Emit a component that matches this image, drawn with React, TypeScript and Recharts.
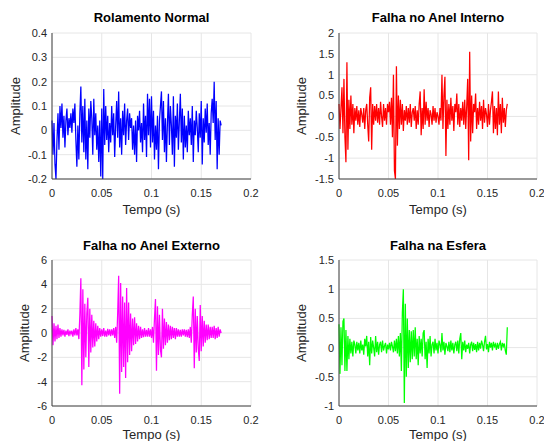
import { LineChart, Line, XAxis, YAxis, CartesianGrid } from 'recharts';

// sample period of the recorded signals (s)
const dt = 0.001;

const xTicks = [0, 0.05, 0.1, 0.15, 0.2];

const normal = [
  0.04, -0.1, 0.03, -0.14, -0.2, -0.04, 0.07, -0.08, 0.1, 0.01,
  0.11, -0.03, 0.06, -0.07, 0.04, 0.09, -0.02, 0.05, 0.01, 0.07,
  -0.01, 0.09, 0.03, 0.11, -0.04, -0.15, 0.02, -0.12, 0.07, 0.18,
  -0.05, 0.1, -0.09, 0.13, -0.12, 0.04, -0.16, 0.09, -0.03, 0.12,
  0.05, -0.1, 0.13, -0.02, 0.07, -0.08, 0.02, -0.13, 0.04, -0.19,
  0.09, -0.2, 0.17, -0.06, 0.1, -0.04, 0.06, -0.09, 0.03, -0.05,
  0.1, -0.02, 0.07, -0.11, 0.02, 0.12, -0.03, 0.16, -0.07, 0.05,
  -0.1, 0.08, -0.02, 0.11, -0.06, 0.04, 0.09, -0.04, 0.07, 0.01,
  0.05, -0.08, 0.02, -0.1, 0.04, -0.13, 0.06, 0.0, 0.08, -0.05,
  0.03, -0.09, 0.11, -0.04, 0.06, -0.11, 0.15, -0.02, 0.13, -0.07,
  0.14, -0.05, 0.08, -0.12, 0.02, -0.08, 0.06, -0.16, 0.04, 0.1,
  0.16, -0.04, 0.12, -0.09, 0.05, -0.13, 0.03, 0.15, -0.06, 0.1,
  0.02, -0.1, 0.14, -0.15, 0.06, -0.03, 0.11, -0.08, 0.04, 0.15,
  -0.05, 0.09, -0.12, 0.06, -0.07, 0.02, -0.09, 0.08, -0.02, 0.05,
  -0.06, 0.1, -0.13, 0.04, -0.02, 0.08, 0.01, -0.09, 0.07, -0.03,
  0.12, -0.14, 0.05, -0.05, 0.09, -0.01, 0.11, -0.06, 0.03, -0.1,
  0.07, 0.13, 0.03, 0.2, -0.04, 0.12, -0.16, 0.05, -0.1, 0.04,
  0.02,
];

const innerRace = [
  0.3, -0.3, 0.2, 0.7, -0.4, 0.9, -0.5, -1.1, 1.3, -0.8,
  0.4, -0.3, 0.5, -0.2, 0.3, -0.4, 0.2, -0.1, 0.25, -0.2,
  0.15, -0.25, 0.2, 0.05, -0.15, 0.2, -0.3, 0.15, 0.3, -0.2,
  -0.6, 0.45, 0.7, -0.8, 0.3, -0.2, 0.25, -0.1, 0.3, -0.15,
  0.2, -0.2, 0.35, 0.0, -0.25, 0.3, -0.1, 0.2, -0.2, 0.3,
  0.1, 0.35, -0.2, 0.45, -0.5, 1.0, -1.3, -1.5, 1.2, -0.7,
  0.5, -0.3, 0.4, -0.2, 0.3, -0.35, 0.15, -0.1, 0.25, -0.2,
  0.2, -0.15, 0.3, -0.25, 0.1, 0.2, -0.1, 0.25, -0.3, 0.15,
  -0.2, 0.3, 0.6, -0.45, 0.2, -0.3, 0.65, -0.2, 0.35, -0.1,
  0.2, -0.25, 0.15, 0.05, -0.2, 0.25, -0.1, 0.2, -0.15, 0.1,
  0.0, -0.2, 0.2, -0.1, 1.0, -0.3, 0.5, 0.95, -0.95, 0.4,
  -0.3, 0.3, -0.2, 0.45, -0.1, 0.25, -0.35, 0.3, 0.1, 0.55,
  -0.2, 0.3, -0.25, 0.2, -0.1, 0.35, -0.2, 0.4, -0.3, 0.25,
  0.9, -1.05, 1.55, -0.6, 0.5, -0.4, 0.3, 0.1, 0.55, -0.3,
  0.2, -0.2, 0.35, -0.1, 0.25, -0.3, 0.4, -0.15, 0.2, 0.05,
  -0.25, 0.3, -0.2, 0.15, 0.35, 0.6, -0.4, 0.25, -0.3, 0.2,
  -0.45, 0.6, -0.2, 0.3, -0.4, 0.45, -0.15, 0.2, -0.25, 0.15,
  0.3,
];

const outerRace = [
  1.4, -1.0, 0.8, -0.7, 0.6, -0.5, 0.7, -0.4, 0.4, -0.3,
  0.3, -0.2, 0.25, -0.3, 0.2, -0.15, 0.3, -0.25, 0.2, -0.1,
  0.2, -0.3, 0.3, -0.2, 0.4, -0.2, 0.3, -0.5, 1.5, 4.5,
  -4.3, 3.6, -3.0, 2.4, -2.0, 1.6, 2.9, -2.8, 2.0, -1.6,
  1.5, -1.2, 1.0, -1.1, 0.8, -0.7, 0.6, -0.5, 0.4, -0.3,
  0.3, -0.25, 0.4, -0.3, 0.2, -0.3, 0.35, -0.2, 0.3, -0.25,
  0.3, -0.2, 0.4, -0.4, 0.5, -0.8, 1.6, 4.7, -5.0, 4.1,
  -3.2, 3.0, -2.8, 2.5, -3.7, 3.7, -2.4, 2.5, -1.8, 1.6,
  -1.5, 1.2, -1.0, 1.3, -0.9, 0.8, -0.7, 0.6, -0.5, 0.5,
  -0.4, 0.3, -0.35, 0.4, -0.3, 0.25, -0.3, 0.4, -0.3, 0.3,
  -0.4, 0.5, -0.8, 1.2, 2.8, -3.1, 2.2, -1.8, 1.5, -1.4,
  -2.0, 2.0, -1.3, 1.2, -1.0, 0.9, -0.8, 0.7, -0.6, 0.6,
  -0.5, 0.5, -0.4, 0.4, -0.5, 0.4, -0.3, 0.3, -0.3, 0.25,
  -0.3, 0.3, -0.2, 0.3, -0.3, 0.25, -0.35, 0.3, -0.4, 0.5,
  -0.8, 1.5, 3.0, -2.9, 2.0, -1.6, 1.4, -1.3, -2.3, 2.3,
  -1.5, 1.4, -1.1, 1.0, -0.8, 0.7, -0.6, 0.7, -0.5, 0.5,
  -0.4, 0.5, -0.4, 0.6, -0.5, 0.4, -0.4, 0.5, -0.3, 0.3,
  0.0,
];

const ballFault = [
  0.4, -0.45, 0.35, -0.3, 0.45, 0.5, -0.4, 0.3, -0.4, 0.2,
  -0.2, 0.15, -0.1, 0.1, -0.15, 0.12, 0.05, -0.1, 0.1, -0.05,
  0.08, -0.1, 0.12, -0.05, 0.05, -0.12, 0.15, 0.02, 0.2, -0.15,
  0.1, -0.3, 0.18, -0.1, 0.12, 0.0, -0.15, 0.2, -0.08, 0.1,
  -0.12, 0.05, 0.1, -0.08, 0.12, -0.05, 0.03, 0.08, -0.1, 0.05,
  -0.03, 0.08, -0.05, 0.1, 0.02, -0.08, 0.12, -0.06, 0.15, -0.1,
  0.2, -0.15, 0.25, -0.4, 0.6, 1.0, -0.95, 0.75, -0.5, 0.5,
  -0.35, 0.3, -0.25, 0.28, -0.2, 0.3, -0.15, 0.35, -0.2, 0.15,
  -0.3, 0.2, -0.1, 0.15, -0.15, 0.25, 0.3, -0.2, 0.1, -0.35,
  0.15, -0.1, 0.2, -0.15, 0.05, 0.1, -0.1, 0.15, -0.05, 0.08,
  -0.1, 0.12, 0.05, -0.08, 0.25, -0.05, 0.1, -0.12, 0.08, 0.02,
  -0.06, 0.1, -0.08, 0.12, -0.05, 0.08, -0.1, 0.05, 0.1, -0.06,
  0.12, -0.1, 0.15, 0.25, -0.2, 0.1, -0.05, 0.12, -0.08, 0.05,
  -0.02, 0.08, -0.1, 0.05, 0.1, -0.06, 0.08, -0.04, 0.06, -0.08,
  0.1, -0.05, 0.08, -0.02, 0.12, 0.05, -0.06, 0.1, 0.2, -0.03,
  0.06, -0.08, 0.1, 0.0, 0.08, -0.05, 0.1, 0.02, 0.06, -0.04,
  0.08, -0.02, 0.06, 0.1, -0.05, 0.08, 0.02, 0.07, -0.05, -0.12,
  0.35,
];

const FONT = '"Liberation Sans", Arial, Helvetica, sans-serif';
const tickStyle = { fontSize: 11, fill: '#262626', fontFamily: FONT };
const frame = '#404040';

type PanelProps = {
  title: string;
  values: number[];
  color: string;
  yDomain: [number, number];
  yTicks: number[];
  left: number;
  top: number;
  height: number;
  marginLeft: number;
  marginRight: number;
  marginTop: number;
  marginBottom: number;
};

function Panel(p: PanelProps) {
  const data = p.values.map((v, i) => ({ t: i * dt, v }));
  return (
    <div style={{ position: 'absolute', left: p.left, top: p.top }}>
      <LineChart
        width={272}
        height={p.height}
        data={data}
        margin={{ top: p.marginTop, right: p.marginRight, left: p.marginLeft, bottom: p.marginBottom }}
      >
        <CartesianGrid stroke="#e6e6e6" />
        <XAxis
          dataKey="t"
          type="number"
          domain={[0, 0.2]}
          ticks={xTicks}
          tickFormatter={(v) => `${v}`}
          tick={tickStyle}
          tickLine={false}
          tickSize={6}
          tickMargin={4}
          height={30}
          axisLine={{ stroke: frame }}
        />
        <XAxis xAxisId="top" orientation="top" type="number" domain={[0, 0.2]} tick={false} tickLine={false} height={0} axisLine={{ stroke: frame }} />
        <YAxis
          type="number"
          domain={p.yDomain}
          ticks={p.yTicks}
          tickFormatter={(v) => `${v}`}
          tick={tickStyle}
          tickLine={false}
          tickSize={3}
          tickMargin={2}
          width={40}
          axisLine={{ stroke: frame }}
        />
        <YAxis yAxisId="right" orientation="right" type="number" domain={p.yDomain} tick={false} tickLine={false} width={0} axisLine={{ stroke: frame }} />
        <Line type="linear" dataKey="v" stroke={p.color} strokeWidth={1.25} dot={false} isAnimationActive={false} />
      </LineChart>
    </div>
  );
}

function Label({ text, x, y, bold, rotate }: { text: string; x: number; y: number; bold?: boolean; rotate?: boolean }) {
  return (
    <div
      style={{
        position: 'absolute',
        left: x,
        top: y,
        transform: `translate(-50%, -50%)${rotate ? ' rotate(-90deg)' : ''}`,
        fontFamily: FONT,
        fontSize: 13,
        fontWeight: bold ? 'bold' : 'normal',
        color: bold ? '#000' : '#262626',
        whiteSpace: 'nowrap',
        lineHeight: '15px',
      }}
    >
      {text}
    </div>
  );
}

export default function App() {
  return (
    <div style={{ position: 'absolute', left: 0, top: 0, width: 544, height: 441, background: '#fff', overflow: 'hidden' }}>
      <Panel title="Rolamento Normal" values={normal} color="#0000ff" yDomain={[-0.2, 0.4]}
        yTicks={[-0.2, -0.1, 0, 0.1, 0.2, 0.3, 0.4]} left={0} top={0} height={220}
        marginLeft={12} marginRight={21} marginTop={33} marginBottom={11} />
      <Panel title="Falha no Anel Interno" values={innerRace} color="#ff0000" yDomain={[-1.5, 2]}
        yTicks={[-1.5, -1, -0.5, 0, 0.5, 1, 1.5, 2]} left={272} top={0} height={220}
        marginLeft={27} marginRight={7} marginTop={33} marginBottom={11} />
      <Panel title="Falha no Anel Externo" values={outerRace} color="#ff00ff" yDomain={[-6, 6]}
        yTicks={[-6, -4, -2, 0, 2, 4, 6]} left={0} top={220} height={221}
        marginLeft={12} marginRight={21} marginTop={40} marginBottom={5} />
      <Panel title="Falha na Esfera" values={ballFault} color="#00ff00" yDomain={[-1, 1.5]}
        yTicks={[-1, -0.5, 0, 0.5, 1, 1.5]} left={272} top={220} height={221}
        marginLeft={27} marginRight={7} marginTop={40} marginBottom={5} />

      <Label text="Rolamento Normal" x={151.5} y={17} bold />
      <Label text="Falha no Anel Interno" x={438} y={17} bold />
      <Label text="Falha no Anel Externo" x={151.5} y={245} bold />
      <Label text="Falha na Esfera" x={438} y={245} bold />

      <Label text="Tempo (s)" x={151.5} y={209} />
      <Label text="Tempo (s)" x={438} y={209} />
      <Label text="Tempo (s)" x={151.5} y={434} />
      <Label text="Tempo (s)" x={438} y={434} />

      <Label text="Amplitude" x={15} y={106} rotate />
      <Label text="Amplitude" x={301} y={106} rotate />
      <Label text="Amplitude" x={24} y={333} rotate />
      <Label text="Amplitude" x={301} y={333} rotate />
    </div>
  );
}
